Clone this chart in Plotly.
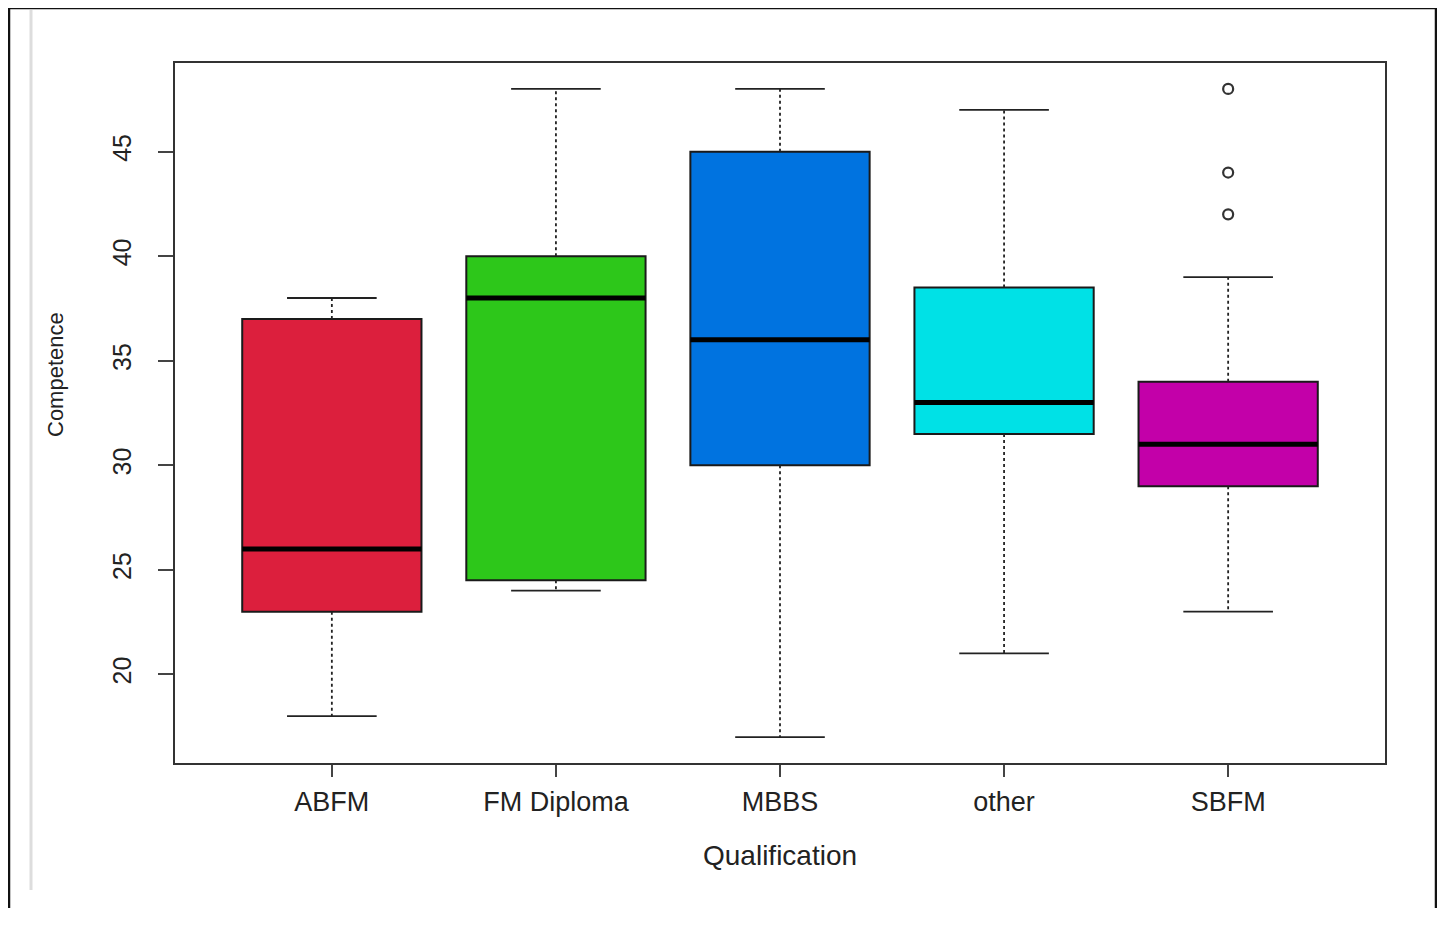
import plotly.graph_objects as go

categories = ["ABFM", "FM Diploma", "MBBS", "other", "SBFM"]
lower_whisker = [18, 24, 17, 21, 23]
q1 = [23, 24.5, 30, 31.5, 29]
median = [26, 38, 36, 33, 31]
q3 = [37, 40, 45, 38.5, 34]
upper_whisker = [38, 48, 48, 47, 39]
outlier_cat = ["SBFM", "SBFM", "SBFM"]
outlier_val = [48, 44, 42]
colors = ["#DC1F3D", "#2DC71A", "#0073E0", "#00E1E6", "#C300A9"]

pos = list(range(1, len(categories) + 1))
cat_pos = {c: p for c, p in zip(categories, pos)}
half_box = 0.4
half_cap = 0.2

fig = go.Figure()

# boxes
fig.add_trace(go.Bar(
    x=pos, y=[b - a for a, b in zip(q1, q3)], base=q1, width=2 * half_box,
    marker=dict(color=colors, line=dict(color="#1a1a1a", width=2)),
    showlegend=False, hoverinfo="skip"))

def segs(pairs):
    xs, ys = [], []
    for (x0, y0, x1, y1) in pairs:
        xs += [x0, x1, None]
        ys += [y0, y1, None]
    return xs, ys

# whiskers (dashed)
wx, wy = segs([(p, a, p, b) for p, a, b in zip(pos, q3, upper_whisker)] +
              [(p, a, p, b) for p, a, b in zip(pos, q1, lower_whisker)])
fig.add_trace(go.Scatter(x=wx, y=wy, mode="lines",
                         line=dict(color="#222", width=1.8, dash="3px,3px"),
                         showlegend=False, hoverinfo="skip"))
# caps
cx, cy = segs([(p - half_cap, v, p + half_cap, v) for p, v in zip(pos, upper_whisker)] +
              [(p - half_cap, v, p + half_cap, v) for p, v in zip(pos, lower_whisker)])
fig.add_trace(go.Scatter(x=cx, y=cy, mode="lines",
                         line=dict(color="#222", width=1.8),
                         showlegend=False, hoverinfo="skip"))
# medians
mx, my = segs([(p - half_box, v, p + half_box, v) for p, v in zip(pos, median)])
fig.add_trace(go.Scatter(x=mx, y=my, mode="lines",
                         line=dict(color="#000", width=5),
                         showlegend=False, hoverinfo="skip"))
# outliers
fig.add_trace(go.Scatter(x=[cat_pos[c] for c in outlier_cat], y=outlier_val, mode="markers",
                         marker=dict(symbol="circle-open", size=10, color="#333",
                                     line=dict(width=2.2, color="#333")),
                         showlegend=False, hoverinfo="skip"))

OFF = 8  # page body margin
W, H = 1437, 900
L, T = 175 - OFF, 63 - OFF
R = W - (1385 - OFF)
B = H - (763 - OFF)
pw, ph = W - L - R, H - T - B
def px(X):
    return (X - OFF - L) / pw
def py(Y):
    return (H - B - (Y - OFF)) / ph

frame = dict(color="#111", width=2.5)
fig.update_layout(
    width=W, height=H,
    margin=dict(l=L, r=R, t=T, b=B, pad=0),
    paper_bgcolor="white", plot_bgcolor="white",
    font=dict(family="Liberation Sans, Arial, sans-serif", color="#222"),
    xaxis=dict(range=[0.3, 5.7], tickvals=pos, ticktext=categories,
               ticks="outside", ticklen=12, tickwidth=2, tickcolor="#444",
               showline=True, mirror=True, linecolor="#333", linewidth=2,
               showgrid=False, zeroline=False, tickfont=dict(size=27, color="#222"),
               ticklabelstandoff=2, fixedrange=True),
    yaxis=dict(range=[15.76, 49.24], tickvals=[20, 25, 30, 35, 40, 45],
               tickangle=-90, ticks="outside", ticklen=15, tickwidth=2, tickcolor="#444",
               showline=True, mirror=True, linecolor="#333", linewidth=2,
               showgrid=False, zeroline=False, tickfont=dict(size=25, color="#222"),
               ticklabelstandoff=17, fixedrange=True),
    annotations=[
        dict(text="Qualification", xref="paper", yref="paper", x=px(780), y=py(855),
             showarrow=False, font=dict(size=28, color="#222"), xanchor="center", yanchor="middle"),
        dict(text="Competence", xref="paper", yref="paper", x=px(55), y=py(375),
             showarrow=False, textangle=-90, font=dict(size=22, color="#222"),
             xanchor="center", yanchor="middle"),
    ],
    shapes=[
        dict(type="line", xref="paper", yref="paper", x0=px(9), x1=px(1436), y0=py(8), y1=py(8), line=frame),
        dict(type="line", xref="paper", yref="paper", x0=px(9), x1=px(9), y0=py(8), y1=py(930), line=frame),
        dict(type="line", xref="paper", yref="paper", x0=px(1436), x1=px(1436), y0=py(8), y1=py(930), line=frame),
        dict(type="line", xref="paper", yref="paper", x0=px(31), x1=px(31), y0=py(890), y1=py(10),
             line=dict(color="#dddddd", width=3), layer="below"),
    ],
)

fig.write_html("out.html")
